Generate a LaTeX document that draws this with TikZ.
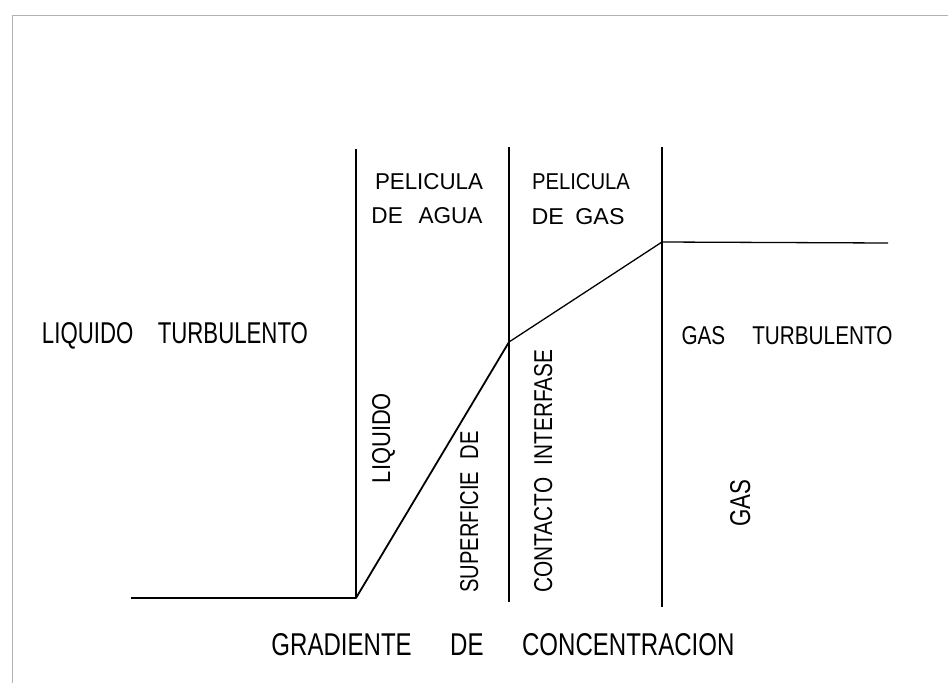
\documentclass[tikz,border=0pt]{standalone}
\usepackage{fontspec}
\setmainfont{Liberation Sans}
\newcommand\hwtext[3]{\resizebox{#1pt}{#2pt}{#3}}
\begin{document}
\begin{tikzpicture}[x=1pt,y=-1pt,
  lbl/.style={inner sep=0pt, anchor=base},
  vlbl/.style={inner sep=0pt, anchor=base, rotate=90},
  film/.style={line width=1.4pt},
  prof/.style={line width=1.8pt, line join=round},
  profthin/.style={line width=1.3pt, line join=round},
  frame/.style={gray!60, line width=0.9pt}]
\useasboundingbox (0,0) rectangle (948,683);
% frame
\coordinate (fa) at (948,15);
\coordinate (fb) at (12,15);
\coordinate (fc) at (12,683);
\draw[frame] (fa) -- (fb) -- (fc);
% film boundaries
\coordinate (v1t) at (356,149);
\coordinate (v1b) at (356,598);
\coordinate (v2t) at (509,147);
\coordinate (v2b) at (509,602);
\coordinate (v3t) at (662,147);
\coordinate (v3b) at (662,607);
\draw[film] (v1t) -- (v1b);
\draw[film] (v2t) -- (v2b);
\draw[film] (v3t) -- (v3b);
% concentration profile
\coordinate (p1) at (131,598);
\coordinate (p2) at (356,598);
\coordinate (p3) at (509,342);
\coordinate (p4) at (662,242);
\coordinate (p5) at (888,243);
\draw[prof] (p1) -- (p2) -- (p3);
\draw[profthin] (p3) -- (p4) -- (p5);
% labels
\node[lbl] (liqt) at (175,343) {\hwtext{266}{21}{LIQUIDO\hspace{1.1em}TURBULENTO}};
\node[lbl] (pel1) at (429,189) {\hwtext{108}{16}{PELICULA}};
\node[lbl] (agua) at (427,223) {\hwtext{111}{16}{DE\hspace{0.7em}AGUA}};
\node[lbl] (pel2) at (581,189) {\hwtext{98}{16}{PELICULA}};
\node[lbl] (dgas) at (578,224) {\hwtext{93}{16}{DE\hspace{0.5em}GAS}};
\node[lbl] (gast) at (787,344) {\hwtext{211}{18}{GAS\hspace{1.3em}TURBULENTO}};
\node[vlbl] (liq) at (390,438) {\hwtext{90}{18}{LIQUIDO}};
\node[vlbl] (sup) at (478,512) {\hwtext{161}{18}{SUPERFICIE\hspace{0.6em}DE}};
\node[vlbl] (con) at (552,471) {\hwtext{243}{18}{CONTACTO\hspace{0.6em}INTERFASE}};
\node[vlbl] (gas) at (750,503) {\hwtext{47}{20}{GAS}};
\node[lbl] (grad) at (503,655) {\hwtext{463}{22}{GRADIENTE\hspace{1.6em}DE\hspace{1.6em}CONCENTRACION}};
\end{tikzpicture}
\end{document}
